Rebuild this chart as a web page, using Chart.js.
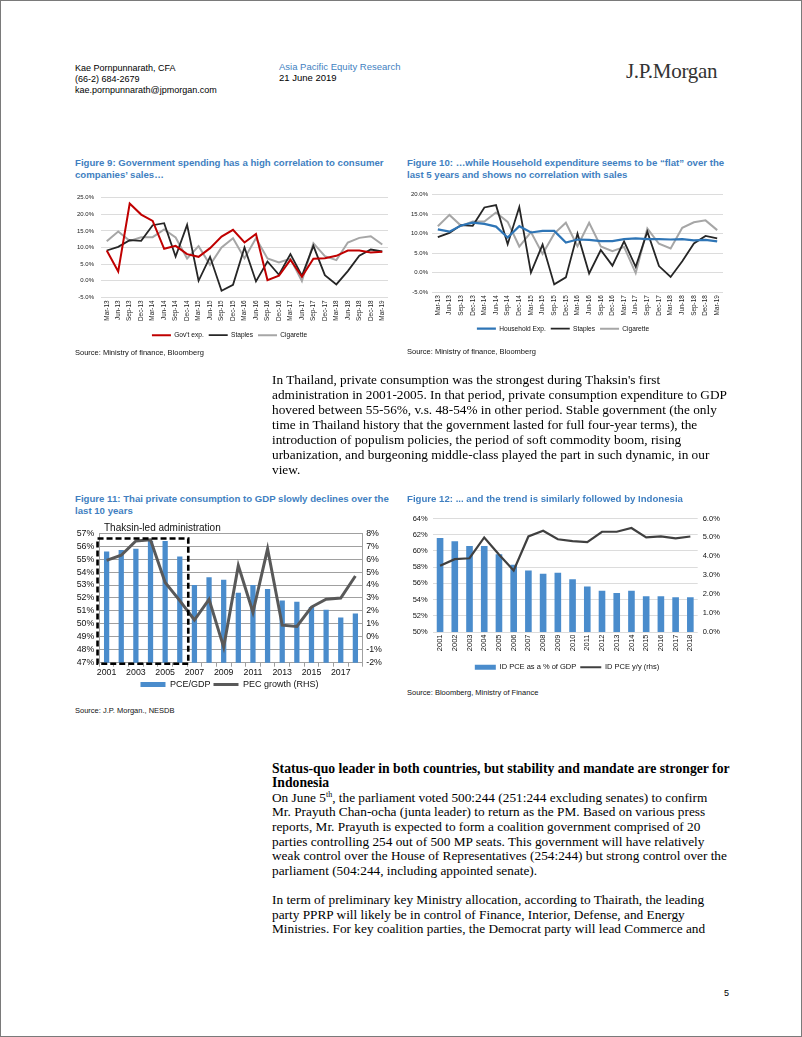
<!DOCTYPE html>
<html>
<head>
<meta charset="utf-8">
<script src="https://cdn.jsdelivr.net/npm/chart.js@4.4.0/dist/chart.umd.min.js"></script>
<style>
html, body { margin: 0; padding: 0; background: #fff; }
#page { position: relative; width: 802px; height: 1037px; box-sizing: border-box; border: 1px solid #7a7a7a; overflow: hidden;
  font-family: "Liberation Sans", Arial, sans-serif; color: #000; }
.t { position: absolute; white-space: nowrap; }
.fig { position: absolute; white-space: nowrap; font-weight: bold; color: #3f7fc1; font-size: 9.65px; line-height: 12.4px; }
.src { position: absolute; white-space: nowrap; font-size: 7.5px; color: #111; }
.body { position: absolute; left: 271px; white-space: nowrap; font-family: "Liberation Serif", "Times New Roman", serif; font-size: 13.3px; color: #000; }
.body b { font-size: 13.7px; }
.body sup { font-size: 8px; line-height: 0; color: #000; }
canvas { position: absolute; }
</style>
</head>
<body>
<div id="page">
  <div class="t" style="left:74px;top:62px;font-size:9px;line-height:10.8px">Kae Pornpunnarath, CFA<br>(66-2) 684-2679<br>kae.pornpunnarath@jpmorgan.com</div>
  <div class="t" style="left:278px;top:61px;font-size:9.5px;line-height:10.8px"><span style="color:#3f7fc1">Asia Pacific Equity Research</span><br>21 June 2019</div>
  <div class="t" style="left:625px;top:58px;font-family:'Liberation Serif',serif;font-size:21px;letter-spacing:-0.3px;color:#333">J.P.Morgan</div>

  <div class="fig" style="left:74px;top:156px">Figure 9: Government spending has a high correlation to consumer<br>companies’ sales…</div>
  <div class="fig" style="left:406px;top:156px">Figure 10: …while Household expenditure seems to be “flat” over the<br>last 5 years and shows no correlation with sales</div>
  <canvas id="fig9" width="325" height="162" style="left:70px;top:186px"></canvas>
  <canvas id="fig10" width="330" height="155" style="left:402px;top:186px"></canvas>
  <div class="src" style="left:74px;top:347px">Source: Ministry of finance, Bloomberg</div>
  <div class="src" style="left:406px;top:346px">Source: Ministry of finance, Bloomberg</div>

  <div class="body" style="top:370.5px;line-height:15px">In Thailand, private consumption was the strongest during Thaksin's first<br>administration in 2001-2005. In that period, private consumption expenditure to GDP<br>hovered between 55-56%, v.s. 48-54% in other period. Stable government (the only<br>time in Thailand history that the government lasted for full four-year terms), the<br>introduction of populism policies, the period of soft commodity boom, rising<br>urbanization, and burgeoning middle-class played the part in such dynamic, in our<br>view.</div>

  <div class="fig" style="left:74px;top:492px">Figure 11: Thai private consumption to GDP slowly declines over the<br>last 10 years</div>
  <div class="fig" style="left:406px;top:492px">Figure 12: ... and the trend is similarly followed by Indonesia</div>
  <canvas id="fig11" width="333" height="176" style="left:62px;top:522px"></canvas>
  <div class="t" style="left:103px;top:521px;font-size:10px;color:#111">Thaksin-led administration</div>
  <canvas id="fig12" width="332" height="172" style="left:400px;top:508px"></canvas>
  <div class="src" style="left:74px;top:705px">Source: J.P. Morgan., NESDB</div>
  <div class="src" style="left:406px;top:687px">Source: Bloomberg, Ministry of Finance</div>

  <div class="body" style="top:760.7px;line-height:14.6px"><b>Status-quo leader in both countries, but stability and mandate are stronger for<br>Indonesia</b><br>On June 5<sup>th</sup>, the parliament voted 500:244 (251:244 excluding senates) to confirm<br>Mr. Prayuth Chan-ocha (junta leader) to return as the PM. Based on various press<br>reports, Mr. Prayuth is expected to form a coalition government comprised of 20<br>parties controlling 254 out of 500 MP seats. This government will have relatively<br>weak control over the House of Representatives (254:244) but strong control over the<br>parliament (504:244, including appointed senate).<br><br>In term of preliminary key Ministry allocation, according to Thairath, the leading<br>party PPRP will likely be in control of Finance, Interior, Defense, and Energy<br>Ministries. For key coalition parties, the Democrat party will lead Commerce and</div>

  <div class="t" style="left:723px;top:987px;font-size:9px">5</div>
</div>

<script>
// du lieu doc tu hinh
const quarters = ["Mar-13","Jun-13","Sep-13","Dec-13","Mar-14","Jun-14","Sep-14","Dec-14","Mar-15","Jun-15","Sep-15","Dec-15","Mar-16","Jun-16","Sep-16","Dec-16","Mar-17","Jun-17","Sep-17","Dec-17","Mar-18","Jun-18","Sep-18","Dec-18","Mar-19"];
const govExp = [9.1, 2.8, 23.2, 19.9, 18.0, 9.6, 10.5, 8.0, 7.2, 9.8, 13.3, 15.3, 11.5, 14.1, 0.2, 1.5, 6.3, 1.2, 6.6, 6.8, 7.5, 9.1, 9.1, 8.5, 8.7];
const staples = [9.1, 10.2, 12.2, 12.0, 16.7, 17.3, 7.3, 16.8, 0.0, 7.2, -3.0, -1.2, 10.0, -0.2, 5.8, 1.8, 8.0, 1.5, 10.5, 1.7, -1.1, 2.9, 7.5, 9.4, 8.8];
const cigarette = [11.9, 14.8, 12.0, 13.1, 13.1, 15.4, 13.0, 6.7, 10.4, 4.8, 10.0, 12.8, 6.8, 12.8, 6.7, 5.5, 6.6, -0.1, 11.3, 7.4, 6.2, 11.5, 12.9, 13.4, 10.9];
const householdExp = [11.1, 10.5, 12.1, 12.8, 12.5, 11.8, 9.0, 11.9, 10.3, 10.7, 10.7, 7.7, 8.5, 8.4, 8.1, 8.1, 8.6, 8.8, 8.6, 8.6, 8.5, 8.6, 8.3, 8.4, 8.0];

const years = ["2001","2002","2003","2004","2005","2006","2007","2008","2009","2010","2011","2012","2013","2014","2015","2016","2017","2018"];
const thPceGdp = [55.6, 55.7, 55.8, 56.4, 56.4, 55.2, 53.0, 53.6, 53.4, 52.4, 53.0, 52.7, 51.8, 51.7, 51.3, 51.1, 50.5, 50.8];
const thPecGrowth = [5.9, 6.3, 7.4, 7.5, 4.2, 2.8, 1.3, 2.9, -0.8, 5.5, 1.9, 6.8, 0.9, 0.8, 2.3, 2.9, 3.0, 4.7];
const thaksinYears = ["2001", "2006"];
const thaksinTop = 56.6;

const idPceGdp = [61.6, 61.2, 60.6, 60.6, 59.6, 58.3, 57.6, 57.2, 57.3, 56.5, 55.6, 55.1, 54.8, 55.1, 54.4, 54.4, 54.3, 54.3];
const idPceYoy = [3.5, 3.85, 3.9, 5.0, 4.1, 3.25, 5.05, 5.35, 4.9, 4.8, 4.75, 5.3, 5.3, 5.5, 5.0, 5.05, 4.95, 5.05];

Chart.defaults.font.family = "'Liberation Sans', Arial, sans-serif";
Chart.defaults.color = "#111";
Chart.defaults.animation = false;
Chart.defaults.plugins.tooltip.enabled = false;

// legend: bar -> hinh chu nhat, line -> duong ke
function legendItems(chart) {
  const items = Chart.defaults.plugins.legend.labels.generateLabels(chart);
  items.forEach(function (it) {
    const ds = chart.data.datasets[it.datasetIndex];
    it.pointStyle = ds.type === "bar" ? "rect" : "line";
  });
  return items;
}

function lineDs(label, data, color, width) {
  return { type: "line", label: label, data: data, borderColor: color, backgroundColor: color,
    borderWidth: width, pointRadius: 0, tension: 0 };
}

function fixW(w) { return function (s) { s.width = w; }; }
function fixH(h) { return function (s) { s.height = h; }; }

function quarterChart(id, datasets, yMax, opt) {
  return new Chart(document.getElementById(id), {
    type: "line",
    data: { labels: quarters, datasets: datasets },
    options: {
      responsive: false,
      devicePixelRatio: 1,
      layout: { padding: { top: 6.7, right: opt.padRight, bottom: opt.padBottom, left: 0 } },
      scales: {
        x: {
          offset: true,
          grid: { display: false, drawTicks: false },
          border: { display: false },
          ticks: { autoSkip: false, minRotation: 90, maxRotation: 90, padding: 3, font: { size: 6.4 }, color: "#222" },
          afterFit: fixH(opt.xH)
        },
        y: {
          min: -5, max: yMax,
          grid: { color: "#dcdcdc", drawTicks: false },
          border: { display: false },
          ticks: { stepSize: 5, autoSkip: false, padding: opt.yPad, font: { size: 6 }, color: "#222",
            callback: function (v) { return v.toFixed(1) + "%"; } },
          afterFit: fixW(opt.yW)
        }
      },
      plugins: {
        legend: {
          position: "bottom",
          labels: { usePointStyle: true, pointStyleWidth: 19, boxHeight: 7, padding: 5,
            font: { size: 6.6 }, color: "#111", generateLabels: legendItems }
        }
      }
    }
  });
}

quarterChart("fig9", [
  lineDs("Gov't exp.", govExp, "#c00000", 2),
  lineDs("Staples", staples, "#262626", 1.8),
  lineDs("Cigarette", cigarette, "#a6a6a6", 2)
], 25, { padRight: 8, padBottom: 0.5, xH: 29.5, yW: 30, yPad: 7 });

quarterChart("fig10", [
  lineDs("Household Exp.", householdExp, "#2e75b6", 2.2),
  lineDs("Staples", staples, "#262626", 1.8),
  lineDs("Cigarette", cigarette, "#a6a6a6", 2)
], 20, { padRight: 10, padBottom: 0, xH: 28.2, yW: 29, yPad: 4 });

// khung net dut cho giai doan Thaksin
const thaksinBox = {
  id: "thaksinBox",
  afterDatasetsDraw: function (chart) {
    const x = chart.scales.x, y = chart.scales.y;
    const i0 = years.indexOf(thaksinYears[0]), i1 = years.indexOf(thaksinYears[1]);
    const step = x.getPixelForValue(1) - x.getPixelForValue(0);
    const left = x.getPixelForValue(i0) - step * 0.62;
    const right = x.getPixelForValue(i1) + step * 0.58;
    const top = y.getPixelForValue(thaksinTop);
    const bottom = chart.chartArea.bottom + 1;
    const ctx = chart.ctx;
    ctx.save();
    ctx.strokeStyle = "#000";
    ctx.lineWidth = 2.6;
    ctx.setLineDash([6, 3]);
    ctx.strokeRect(left, top, right - left, bottom - top);
    ctx.restore();
  }
};

new Chart(document.getElementById("fig11"), {
  type: "bar",
  data: {
    labels: years,
    datasets: [
      { type: "bar", label: "PCE/GDP", data: thPceGdp, backgroundColor: "#4a8ccc", borderWidth: 0,
        barPercentage: 0.36, categoryPercentage: 1, yAxisID: "y", order: 2 },
      Object.assign(lineDs("PEC growth (RHS)", thPecGrowth, "#595959", 3), { yAxisID: "y1", order: 1 })
    ]
  },
  options: {
    responsive: false,
    devicePixelRatio: 1,
    layout: { padding: { top: 7.3, right: 0, bottom: 0, left: 0 } },
    scales: {
      x: {
        grid: { drawOnChartArea: false, color: "#a0a0a0", tickLength: 4 },
        border: { display: false },
        ticks: { autoSkip: false, maxRotation: 0, padding: 1, font: { size: 8.8 }, color: "#111",
          callback: function (v, i) { return i % 2 === 0 ? years[i] : ""; } },
        afterFit: fixH(14.3)
      },
      y: {
        min: 47, max: 57,
        grid: { color: "#a0a0a0", drawTicks: false },
        border: { display: true, color: "#a0a0a0" },
        ticks: { stepSize: 1, autoSkip: false, padding: 5, font: { size: 8.8 }, color: "#111",
          callback: function (v) { return v + "%"; } },
        afterFit: fixW(36.3)
      },
      y1: {
        position: "right",
        min: -2, max: 8,
        grid: { drawOnChartArea: false, drawTicks: false },
        border: { display: true, color: "#a0a0a0" },
        ticks: { stepSize: 1, autoSkip: false, padding: 3.5, font: { size: 8.8 }, color: "#111",
          callback: function (v) { return v + "%"; } },
        afterFit: fixW(33.3)
      }
    },
    plugins: {
      legend: {
        position: "bottom",
        labels: { usePointStyle: true, pointStyleWidth: 25, boxHeight: 5, padding: 3,
          font: { size: 9 }, color: "#111", generateLabels: legendItems,
          sort: function (a, b) { return a.datasetIndex - b.datasetIndex; } }
      }
    }
  },
  plugins: [thaksinBox]
});

new Chart(document.getElementById("fig12"), {
  type: "bar",
  data: {
    labels: years,
    datasets: [
      { type: "bar", label: "ID PCE as a % of GDP", data: idPceGdp, backgroundColor: "#4a8ccc", borderWidth: 0,
        barPercentage: 0.45, categoryPercentage: 1, yAxisID: "y", order: 2 },
      Object.assign(lineDs("ID PCE y/y (rhs)", idPceYoy, "#404040", 2.2), { yAxisID: "y1", order: 1 })
    ]
  },
  options: {
    responsive: false,
    devicePixelRatio: 1,
    layout: { padding: { top: 7.7, right: 0, bottom: 0, left: 0 } },
    scales: {
      x: {
        grid: { display: false, drawTicks: false },
        border: { display: false },
        ticks: { autoSkip: false, minRotation: 90, maxRotation: 90, padding: 2.5, font: { size: 7.5 }, color: "#111" },
        afterFit: fixH(27.5)
      },
      y: {
        min: 50, max: 64,
        grid: { color: "#dcdcdc", drawTicks: false },
        border: { display: false },
        ticks: { stepSize: 2, autoSkip: false, padding: 5, font: { size: 7.5 }, color: "#111",
          callback: function (v) { return v + "%"; } },
        afterFit: fixW(31.7)
      },
      y1: {
        position: "right",
        min: 0, max: 6,
        grid: { drawOnChartArea: false, drawTicks: false },
        border: { display: false },
        ticks: { stepSize: 1, autoSkip: false, padding: 5, font: { size: 7.5 }, color: "#111",
          callback: function (v) { return v.toFixed(1) + "%"; } },
        afterFit: fixW(35.3)
      }
    },
    plugins: {
      legend: {
        position: "bottom",
        labels: { usePointStyle: true, pointStyleWidth: 21, boxHeight: 5, padding: 4,
          font: { size: 7.5 }, color: "#111", generateLabels: legendItems,
          sort: function (a, b) { return a.datasetIndex - b.datasetIndex; } }
      }
    }
  }
});
</script>
</body>
</html>
